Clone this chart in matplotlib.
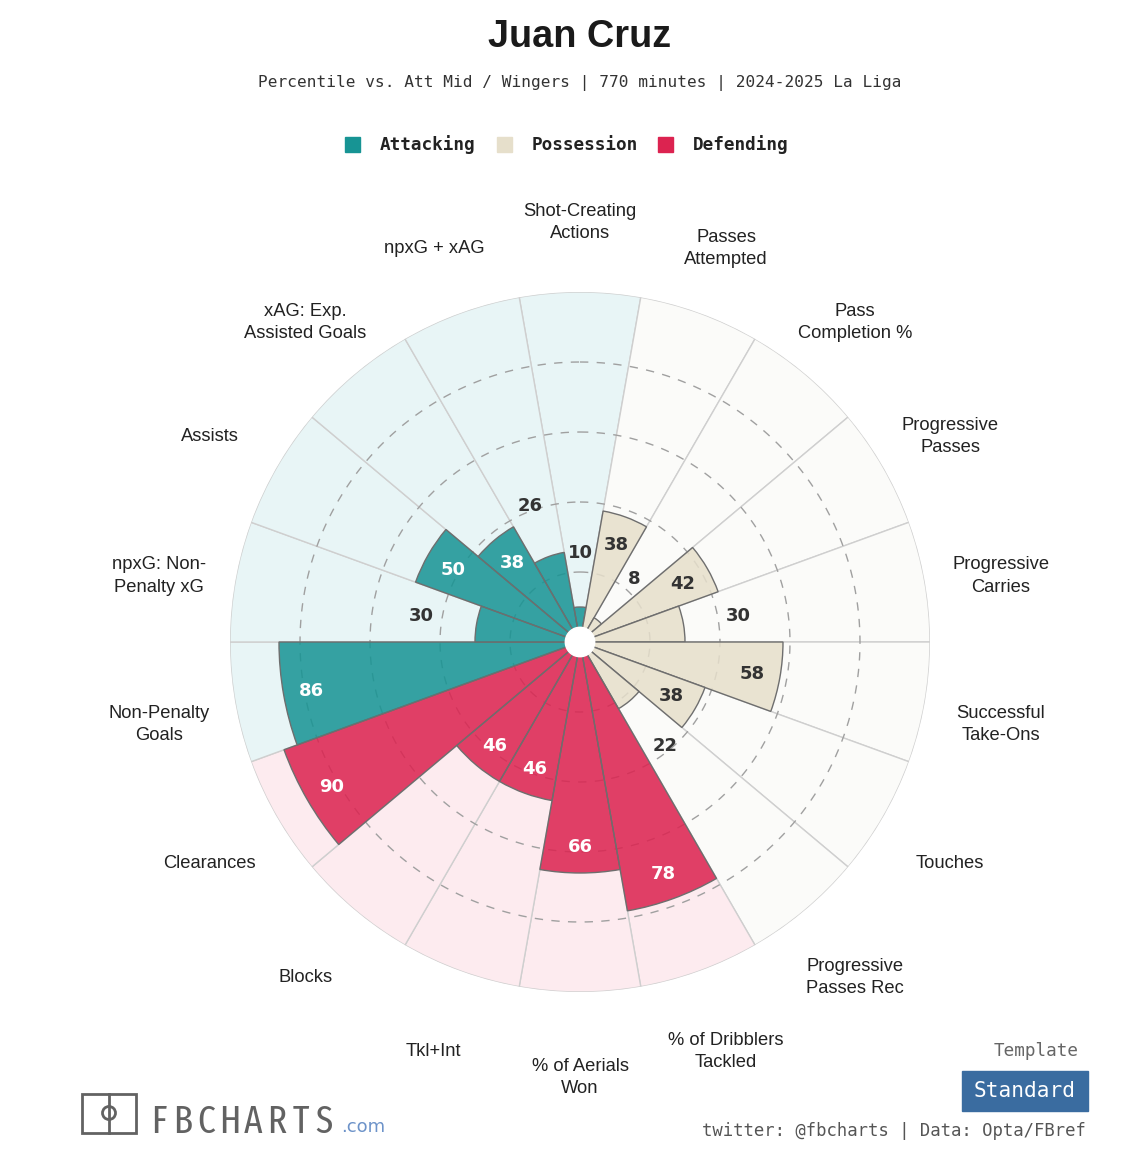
import numpy as np
import matplotlib
matplotlib.use("Agg")
import matplotlib.pyplot as plt
from matplotlib import font_manager
from matplotlib.font_manager import FontProperties
from matplotlib.colors import to_rgba
from matplotlib.patches import Rectangle, Ellipse
from matplotlib.lines import Line2D

# ---------------- data ----------------
title = "Juan Cruz"
subtitle = "Percentile vs. Att Mid / Wingers | 770 minutes | 2024-2025 La Liga"
categories = [
    "Shot-Creating\nActions", "Passes\nAttempted", "Pass\nCompletion %",
    "Progressive\nPasses", "Progressive\nCarries", "Successful\nTake-Ons",
    "Touches", "Progressive\nPasses Rec", "% of Dribblers\nTackled",
    "% of Aerials\nWon", "Tkl+Int", "Blocks", "Clearances",
    "Non-Penalty\nGoals", "npxG: Non-\nPenalty xG", "Assists",
    "xAG: Exp.\nAssisted Goals", "npxG + xAG",
]
values = [10, 38, 8, 42, 30, 58, 38, 22, 78, 66, 46, 46, 90, 86, 30, 50, 38, 26]
groups = ["Attacking", "Possession", "Possession", "Possession", "Possession",
          "Possession", "Possession", "Possession", "Defending", "Defending",
          "Defending", "Defending", "Defending", "Attacking", "Attacking",
          "Attacking", "Attacking", "Attacking"]
legend_labels = ["Attacking", "Possession", "Defending"]
logo_text = "FBCHARTS"

# ---------------- style ----------------
bar_col = {"Attacking": "#179494", "Possession": "#e6dfcb", "Defending": "#dc2350"}
bg_col = {"Attacking": "#e8f5f6", "Possession": "#fbfbf9", "Defending": "#fdebef"}
txt_in = {"Attacking": "white", "Possession": "#333333", "Defending": "white"}

SANS = "Liberation Sans"
MONO = "DejaVu Sans Mono"

# narrowest available font for the logo
best, best_score = None, 0
for f in font_manager.fontManager.ttflist:
    key = (f.name + " " + f.fname).lower().replace(" ", "").replace("-", "")
    if f.style != "normal":
        continue
    if "extracondensed" in key or "ultracondensed" in key:
        sc = 4
    elif "semicondensed" in key:
        sc = 1
    elif "condensed" in key or "narrow" in key:
        sc = 2
    else:
        continue
    w = f.weight if isinstance(f.weight, int) else 400
    if w == 400:
        sc += 0.5
    elif w not in (300, 500):
        sc -= 0.4
    if sc > best_score:
        best, best_score = f.fname, sc
logo_fp = FontProperties(fname=best) if best else FontProperties(family=MONO)

W, H = 1148, 1156
fig = plt.figure(figsize=(W / 100, H / 100), dpi=100)
renderer = fig.canvas.get_renderer()

cx, cy, R = 580, 642, 350
ax = fig.add_axes([(cx - R) / W, (H - cy - R) / H, 2 * R / W, 2 * R / H],
                  projection="polar")
ax.set_theta_offset(np.pi / 2)
ax.set_theta_direction(-1)
ax.set_ylim(0, 100)
ax.set_axis_off()

n = len(categories)
theta = np.arange(n) * 2 * np.pi / n
width = 2 * np.pi / n

# background slices
ax.bar(theta, [100] * n, width=width, color=[bg_col[g] for g in groups],
       edgecolor="#cfcfcf", linewidth=1.0, zorder=1)
# dashed rings
tt = np.linspace(0, 2 * np.pi, 721)
for r in [20, 40, 60, 80]:
    ax.plot(tt, np.full_like(tt, r), color="#a0a0a0", lw=1.0,
            ls=(0, (6, 6)), zorder=2)
# value bars
ax.bar(theta, values, width=width,
       facecolor=[to_rgba(bar_col[g], 0.86) for g in groups],
       edgecolor="#6e6e6e", linewidth=1.0, zorder=3)
# centre hole
ax.fill(tt, np.full_like(tt, 4.2), color="white", zorder=5)

# value labels
for t, v, g in zip(theta, values, groups):
    if v > 32:
        r, c = v - 8, txt_in[g]
    else:
        r, c = v + 16, "#333333"
    ax.annotate(str(v), xy=(t, r), xytext=(0, -1.2), textcoords="offset points",
                ha="center", va="center", fontsize=13, fontweight="bold",
                color=c, family="DejaVu Sans", zorder=6)

# category labels
for t, lab in zip(theta, categories):
    ax.annotate(lab, xy=(t, 122.1), xytext=(0, -5.8), textcoords="offset points",
                ha="center", va="center", fontsize=13.2, family=SANS,
                color="#222222", linespacing=1.42, annotation_clip=False)

# ---------------- titles ----------------
def fx(x):
    return x / W

def fy(y):
    return 1 - y / H

fig.text(fx(580), fy(37), title, ha="center", va="center", fontsize=27.3,
         fontweight="bold", family=SANS, color="#1a1a1a")
fig.text(fx(580), fy(83), subtitle, ha="center", va="center", fontsize=11.6,
         family=MONO, color="#333333")

# legend
leg_sq_x = [345, 497, 658]
for xs, lab in zip(leg_sq_x, legend_labels):
    fig.patches.append(Rectangle((fx(xs), fy(152)), 15 / W, 15 / H,
                                 transform=fig.transFigure,
                                 color=bar_col[lab]))
    fig.text(fx(xs + 35), fy(145), lab, ha="left", va="center", fontsize=12.7,
             fontweight="bold", family=MONO, color="#222222")

# ---------------- footer ----------------
fig.text(fx(1036), fy(1051), "Template", ha="center", va="center",
         fontsize=12.7, family=MONO, color="#666666")
fig.patches.append(Rectangle((fx(962), fy(1111)), 126 / W, 40 / H,
                             transform=fig.transFigure, color="#3a6ca0"))
fig.text(fx(1025), fy(1091), "Standard", ha="center", va="center",
         fontsize=15.2, family=MONO, color="white")
fig.text(fx(1086), fy(1131), "twitter: @fbcharts | Data: Opta/FBref",
         ha="right", va="center", fontsize=12.4, family=MONO, color="#555555")

# logo
logo_c = "#626262"
fig.patches.append(Rectangle((fx(82), fy(1133)), 54 / W, 39 / H,
                             transform=fig.transFigure, fill=False,
                             edgecolor=logo_c, lw=2))
fig.lines.append(Line2D([fx(109), fx(109)], [fy(1094), fy(1133)],
                        transform=fig.transFigure, color=logo_c, lw=2))
fig.patches.append(Ellipse((fx(109), fy(1113)), 13 / W, 13 / H,
                           transform=fig.transFigure, fill=False,
                           edgecolor=logo_c, lw=2))

# pick the largest size whose letters fit the pitch and the cap height
pitch = 23.6
size = 12
for s in np.arange(44, 12, -0.5):
    fp = logo_fp.copy()
    fp.set_size(s)
    wmax = max(renderer.get_text_width_height_descent(ch, fp, False)[0]
               for ch in logo_text)
    wh, hh, dd = renderer.get_text_width_height_descent("H", fp, False)
    if wmax <= pitch - 2.2 and (hh - dd) <= 40:
        size = s
        break
for i, ch in enumerate(logo_text):
    fig.text(fx(159 + i * pitch), fy(1133), ch, ha="center", va="baseline",
             fontproperties=logo_fp, fontsize=size, color=logo_c)
fig.text(fx(341), fy(1127), ".com", ha="left", va="center", fontsize=13,
         family="DejaVu Sans", color="#6d93c9")

fig.savefig("out.png", dpi=100)
